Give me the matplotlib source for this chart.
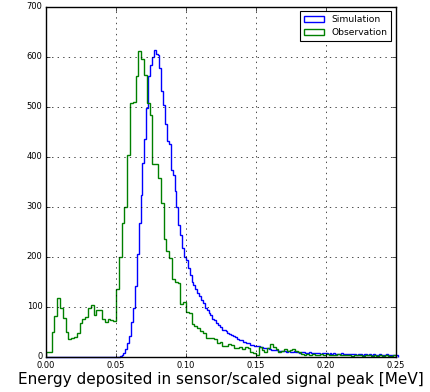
import numpy as np
import matplotlib
matplotlib.use("Agg")
import matplotlib.pyplot as plt

# ---------------- data ----------------
sim_bin_start = 0.0
sim_bin_width = 0.00135
sim_counts = (
    [0] * 39 +
    [1, 3, 7, 15, 27, 42, 70, 97, 141, 205, 267, 323, 388, 435, 498, 562, 583, 600, 614,
     605, 603, 577, 532, 503, 465, 432, 425, 373, 363, 332, 300, 263, 243, 217, 200,
     193, 177, 163, 150, 143, 135, 128, 121, 113, 107, 97, 93, 88, 83, 76, 73, 67, 63,
     59, 53, 54, 51, 47, 46, 44, 42, 40, 36, 34, 33, 30, 30, 27, 27, 24, 23, 22, 21,
     21, 20, 19, 18, 17, 17, 16, 14, 13, 13, 13, 12, 12, 12,
     11, 10, 12, 10, 9, 11, 10, 9, 8, 9, 10, 8, 8, 9, 7,
     8, 7, 8, 7, 6, 8, 7, 7, 6, 7,
     6, 7, 6, 5, 6, 7, 5, 6, 5, 6, 5, 5, 6, 4, 5,
     5, 4, 5, 5, 4, 6, 4, 5, 4, 4, 5, 3, 4, 4, 5, 3, 4, 4, 3, 4]
)

obs_bin_start = 0.0
obs_bin_width = 0.002
obs_counts = [
    10, 10, 50, 82, 118, 97, 78, 50, 35, 37, 40, 48, 68, 75, 80, 97, 103, 84, 93, 93,
    75, 70, 76, 73, 72, 135, 200, 267, 300, 403, 507, 510, 562, 612, 595, 563, 508, 483,
    385, 385, 357, 308, 235, 212, 197, 155, 150, 148, 105, 110, 90, 87, 65, 61, 57, 52,
    48, 37, 37, 37, 35, 27, 30, 22, 22, 25, 23, 17, 18, 20, 15, 20, 17, 10, 8, 3, 20, 13,
    10, 18, 25, 20, 15, 10, 12, 15, 12, 13, 15, 12, 10,
    5, 4, 6, 3, 5, 4, 3, 5, 4, 6, 3, 4, 3, 5, 4, 3, 3, 4, 2, 4, 3, 3, 2, 3, 4, 2, 3, 2,
    3, 2, 3, 2, 2, 3,
]

series_labels = ["Simulation", "Observation"]
x_ticks = [0.00, 0.05, 0.10, 0.15, 0.20, 0.25]
y_ticks = [0, 100, 200, 300, 400, 500, 600, 700]
x_label = "Energy deposited in sensor/scaled signal peak [MeV]"

# ---------------- plot ----------------
plt.style.use("classic")
fig = plt.figure(figsize=(4.3, 3.92), dpi=100)
fig.patch.set_facecolor("white")
ax = fig.add_axes([46 / 430, 1 - 356.7 / 392, 350 / 430, 350 / 392])

sim_edges = sim_bin_start + sim_bin_width * np.arange(len(sim_counts) + 1)
obs_edges = obs_bin_start + obs_bin_width * np.arange(len(obs_counts) + 1)

ax.hist(sim_edges[:-1], bins=sim_edges, weights=sim_counts, histtype="step",
        color="b", linewidth=1.0, label=series_labels[0], clip_on=False)
ax.hist(obs_edges[:-1], bins=obs_edges, weights=obs_counts, histtype="step",
        color="g", linewidth=1.0, label=series_labels[1])

ax.set_xlim(0, 0.25)
ax.set_ylim(0, 700)
ax.set_xticks(x_ticks)
ax.set_yticks(y_ticks)
ax.set_xticklabels([f"{t:.2f}" for t in x_ticks])
ax.tick_params(labelsize=6.0, direction="in", length=3, width=0.5,
               top=True, right=True)
ax.tick_params(axis="x", pad=3.2)
ax.tick_params(axis="y", pad=2.5)
ax.grid(True, color="black", linestyle=":", linewidth=0.5)
for s in ax.spines.values():
    s.set_linewidth(1.0)

ax.set_xlabel(x_label, fontsize=11.0, labelpad=1.0)

leg = ax.legend(loc="upper right", fontsize=6.6, frameon=True, fancybox=False,
                borderaxespad=0.5, handlelength=2.2, borderpad=0.45,
                labelspacing=0.4)
leg.get_frame().set_edgecolor("black")
leg.get_frame().set_linewidth(0.8)

fig.savefig("out.png", dpi=100, facecolor="white")
